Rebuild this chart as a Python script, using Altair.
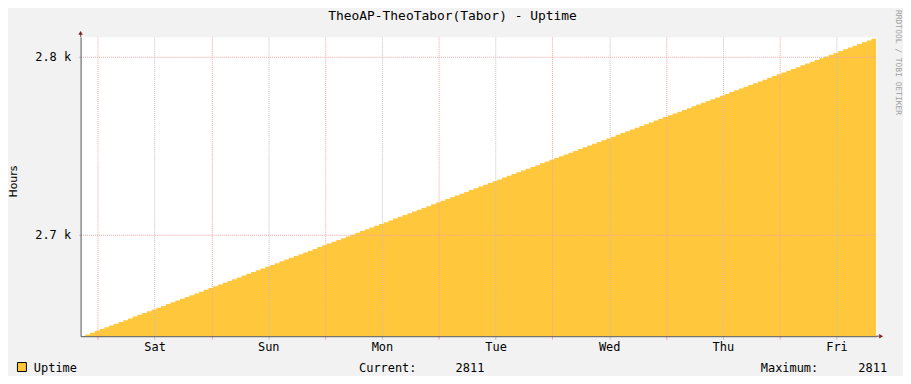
import altair as alt
import pandas as pd

TITLE = "TheoAP-TheoTabor(Tabor) - Uptime"
Y_TITLE = "Hours"
WATERMARK = "RRDTOOL / TOBI OETIKER"
SERIES = "Uptime"
DAYS = ["Sat", "Sun", "Mon", "Tue", "Wed", "Thu", "Fri"]

# hourly samples of uptime (hours); first sample at START_HOUR relative to Sat 00:00
START_HOUR = -3.63
STEP_HOURS = 1.0
VALUES = [
    2643, 2644, 2645, 2646, 2647, 2648, 2649, 2650, 2651, 2652, 2653, 2654, 2655,
    2656, 2657, 2658, 2659, 2660, 2661, 2662, 2663, 2664, 2665, 2666, 2667, 2668,
    2669, 2670, 2671, 2672, 2673, 2674, 2675, 2676, 2677, 2678, 2679, 2680, 2681,
    2682, 2683, 2684, 2685, 2686, 2687, 2688, 2689, 2690, 2691, 2692, 2693, 2694,
    2695, 2696, 2697, 2698, 2699, 2700, 2701, 2702, 2703, 2704, 2705, 2706, 2707,
    2708, 2709, 2710, 2711, 2712, 2713, 2714, 2715, 2716, 2717, 2718, 2719, 2720,
    2721, 2722, 2723, 2724, 2725, 2726, 2727, 2728, 2729, 2730, 2731, 2732, 2733,
    2734, 2735, 2736, 2737, 2738, 2739, 2740, 2741, 2742, 2743, 2744, 2745, 2746,
    2747, 2748, 2749, 2750, 2751, 2752, 2753, 2754, 2755, 2756, 2757, 2758, 2759,
    2760, 2761, 2762, 2763, 2764, 2765, 2766, 2767, 2768, 2769, 2770, 2771, 2772,
    2773, 2774, 2775, 2776, 2777, 2778, 2779, 2780, 2781, 2782, 2783, 2784, 2785,
    2786, 2787, 2788, 2789, 2790, 2791, 2792, 2793, 2794, 2795, 2796, 2797, 2798,
    2799, 2800, 2801, 2802, 2803, 2804, 2805, 2806, 2807, 2808, 2809, 2810, 2811,
]
Y_TICKS = [2700, 2800]
X_GRID_HOURS = [0, 6, 12, 18, 24, 30, 36, 42, 48, 54, 60, 66, 72, 78, 84, 90,
                96, 102, 108, 114, 120, 126, 132, 138, 144, 150, 156, 162]
STAT_CURRENT = ("Current:", "2811")
STAT_MAXIMUM = ("Maximum:", "2811")

# ---- styling ----
FILL = "#FFC73B"
MAJOR = "#EFA5A5"
MINOR = "#C2C2C2"
AXIS = "#555555"
ARROW = "#7F1F1F"
MONO = "DejaVu Sans Mono"
PLOT_W, PLOT_H = 800, 301

hours = [START_HOUR + i * STEP_HOURS for i in range(len(VALUES))]
df = pd.DataFrame({"hour": hours, "uptime": VALUES})
X_MIN, X_MAX = hours[0], hours[-1]
Y_MIN, Y_MAX = min(VALUES), max(VALUES)

xscale = alt.Scale(domain=[X_MIN, X_MAX], nice=False, zero=False)
yscale = alt.Scale(domain=[Y_MIN, Y_MAX], nice=False, zero=False)

day_arr = "[" + ",".join("'%s'" % d for d in DAYS) + "]"
major_test = "datum.value % 24 === 0"
grid_col = {"condition": {"test": major_test, "value": MAJOR}, "value": MINOR}

x_axis = alt.Axis(
    values=X_GRID_HOURS, grid=True, gridDash=[1, 1], gridColor=grid_col,
    ticks=True, tickSize=3, tickColor=grid_col,
    labelExpr="datum.value % 24 === 12 ? " + day_arr + "[floor(datum.value / 24)] : ''",
    labelFont=MONO, labelFontSize=12, labelColor="black", labelBaseline="alphabetic",
    labelPadding=11, labelOverlap=False, labelFlush=False, labelBound=False,
    domainColor=AXIS, title=None, zindex=1,
)
y_axis = alt.Axis(
    values=Y_TICKS, grid=True, gridDash=[1, 1], gridColor=MAJOR,
    ticks=True, tickSize=2, tickColor=MAJOR,
    labelExpr="format(datum.value / 1000, '.1f') + ' k'",
    labelFont=MONO, labelFontSize=12, labelColor="black", labelPadding=8,
    domainColor=AXIS, title=Y_TITLE, titleFont="DejaVu Sans", titleFontSize=11,
    titleFontWeight="normal", titleColor="black", titleAngle=270,
    titleAlign="center", titleBaseline="middle", titleX=-67, titleY=145, zindex=1,
)

area = alt.Chart(df).mark_area(color=FILL, interpolate="step-after", clip=True).encode(
    x=alt.X("hour:Q", scale=xscale, axis=x_axis),
    y=alt.Y("uptime:Q", scale=yscale, axis=y_axis),
)

one = pd.DataFrame({"k": [0]})

y_ext = alt.Chart(one).mark_rule(color=AXIS, yOffset=-4).encode(
    x=alt.XDatum(X_MIN, type="quantitative"),
    y=alt.YDatum(Y_MAX, type="quantitative"),
    y2=alt.Y2Datum(Y_MAX),
)
x_ext = alt.Chart(one).mark_rule(color=AXIS, x2Offset=3).encode(
    x=alt.XDatum(X_MAX, type="quantitative"),
    x2=alt.X2Datum(X_MAX),
    y=alt.YDatum(Y_MIN, type="quantitative"),
)
y_arrow = alt.Chart(one).mark_point(shape="triangle-up", filled=True, color=ARROW,
                                    opacity=1, size=20, yOffset=-4).encode(
    x=alt.XDatum(X_MIN, type="quantitative"),
    y=alt.YDatum(Y_MAX, type="quantitative"),
)
x_arrow = alt.Chart(one).mark_point(shape="triangle-right", filled=True, color=ARROW,
                                    opacity=1, size=20, xOffset=5).encode(
    x=alt.XDatum(X_MAX, type="quantitative"),
    y=alt.YDatum(Y_MIN, type="quantitative"),
)


def label(text, x, y, align="left", baseline="alphabetic", size=12, color="black",
          font=MONO, angle=0):
    return alt.Chart(one).mark_text(
        text=text, align=align, baseline=baseline, fontSize=size, color=color,
        font=font, angle=angle,
    ).encode(x=alt.value(x), y=alt.value(y))


title = label(TITLE, 374, -17, align="center", size=13)
watermark = label(WATERMARK, 822, -27, baseline="middle", size=8, color="#A0A0A0",
                  angle=90)
legend_box = alt.Chart(one).mark_rect(fill=FILL, stroke="black", strokeWidth=1).encode(
    x=alt.value(-63.5), x2=alt.value(-54.5), y=alt.value(327.5), y2=alt.value(336.5)
)
legend_txt = label(SERIES, -47, 337)
cur_lbl = label(STAT_CURRENT[0], 280, 337)
cur_val = label(STAT_CURRENT[1], 406, 337, align="right")
max_lbl = label(STAT_MAXIMUM[0], 684, 337)
max_val = label(STAT_MAXIMUM[1], 811, 337, align="right")

chart = alt.layer(
    area, y_ext, x_ext, y_arrow, x_arrow, title, watermark, legend_box, legend_txt,
    cur_lbl, cur_val, max_lbl, max_val,
).properties(
    width=PLOT_W, height=PLOT_H,
    autosize=alt.AutoSizeParams(type="none"),
    padding={"left": 73, "top": 28, "right": 27, "bottom": 39},
    background="#F2F2F2",
).configure_view(fill="white", stroke="transparent")

chart.save("out.html", embed_options={"renderer": "svg", "actions": False})
